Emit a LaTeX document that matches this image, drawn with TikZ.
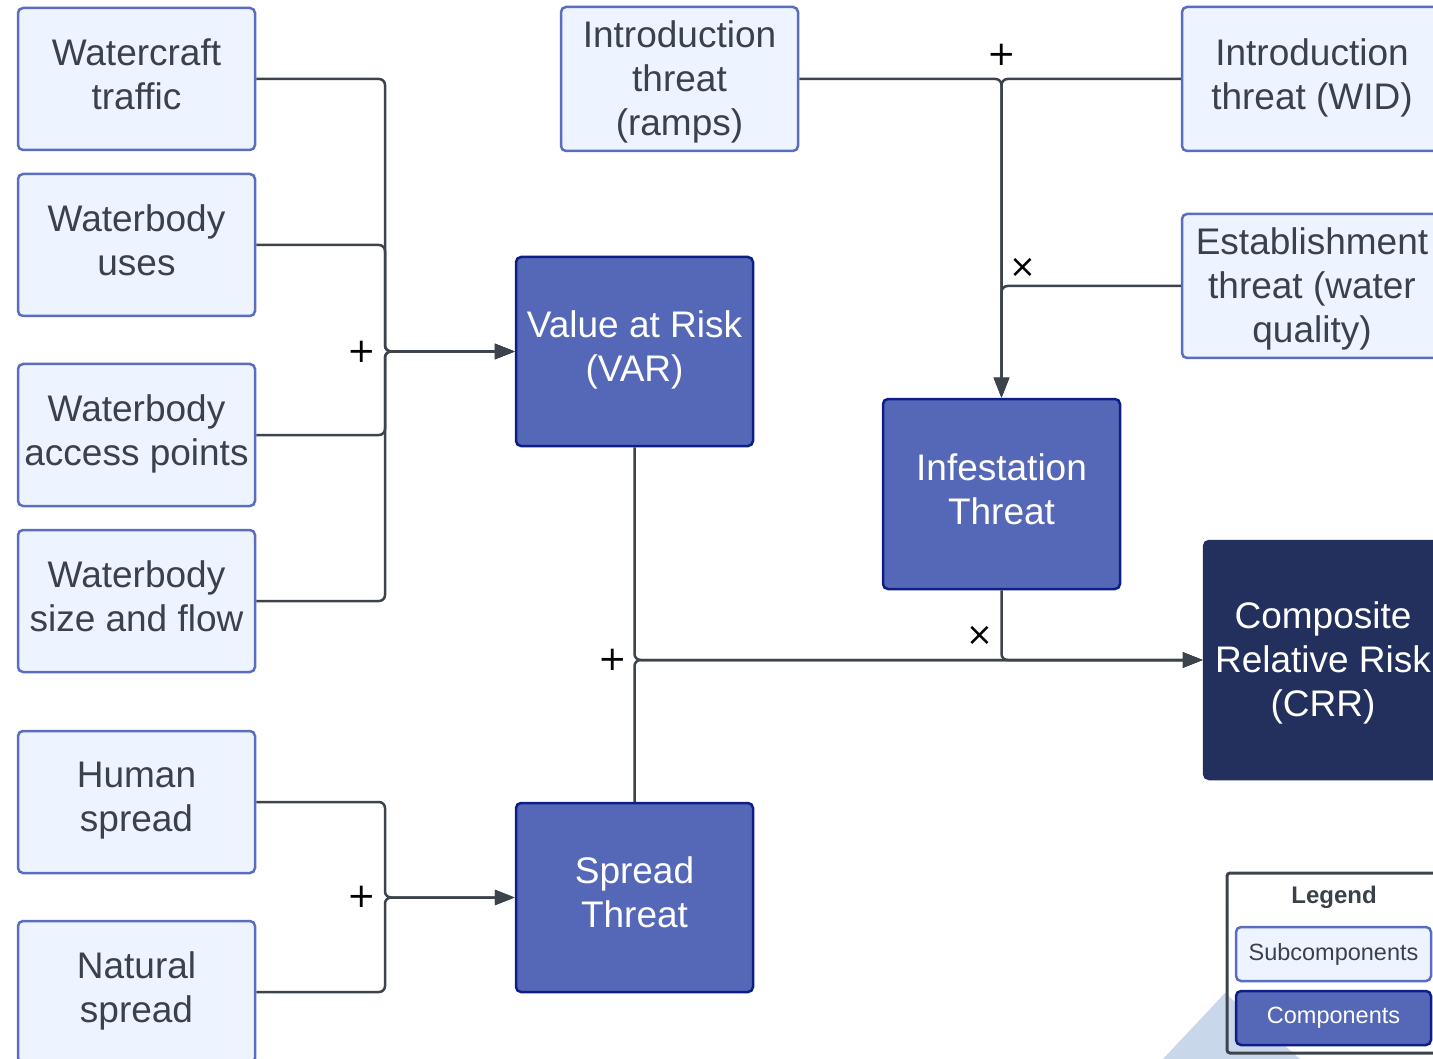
\documentclass[tikz,border=0pt]{standalone}
\usepackage{fontspec}
\setmainfont{Liberation Sans}
\newfontfamily\symfont{DejaVu Sans}
\usetikzlibrary{arrows.meta}
\definecolor{subfill}{HTML}{EDF4FF}
\definecolor{subdraw}{HTML}{5B6DBF}
\definecolor{subtext}{HTML}{3A414A}
\definecolor{compfill}{HTML}{5568B8}
\definecolor{compdraw}{HTML}{0F1D87}
\definecolor{crrfill}{HTML}{23305E}
\definecolor{edgecol}{HTML}{3D434B}
\definecolor{legshade}{HTML}{C9D7EA}
\begin{document}
\begin{tikzpicture}[x=1pt,y=-1pt,
  box/.style={line width=2.5pt, rounded corners=5pt, align=center, inner sep=0pt,
    minimum width=237pt, text depth=10pt, font=\fontsize{37}{44}\selectfont},
  threeline/.style={text depth=2pt},
  sub/.style={box, draw=subdraw, fill=subfill, text=subtext, minimum height=142pt},
  comp/.style={box, draw=compdraw, fill=compfill, text=white, minimum height=189pt},
  crrbox/.style={box, draw=crrfill, fill=crrfill, text=white, minimum width=238pt, minimum height=238pt},
  link/.style={draw=edgecol, line width=2.5pt, rounded corners=6pt},
  flow/.style={link, -{Triangle[length=20pt,width=15pt]}},
  sign/.style={text=black, inner sep=0pt, font=\symfont\fontsize{34}{34}\selectfont},
  times/.style={sign, font=\symfont\fontsize{32}{32}\selectfont},
  legtxt/.style={line width=2.5pt, rounded corners=5pt, inner sep=0pt, minimum width=195pt,
    minimum height=54pt, font=\fontsize{23.5}{27}\selectfont}]
\useasboundingbox (0,0) rectangle (1433,1059);
\clip (0,0) rectangle (1433,1059);

% subcomponents on the left
\node[sub] (wt) at (136.5,79)  {Watercraft\\traffic};
\node[sub] (wu) at (136.5,245) {Waterbody\\uses};
\node[sub] (wa) at (136.5,435) {Waterbody\\access points};
\node[sub] (ws) at (136.5,601) {Waterbody\\size and flow};
\node[sub] (hs) at (136.5,802) {Human\\spread};
\node[sub] (ns) at (136.5,992) {Natural\\spread};

% subcomponents at the top and right
\node[sub, threeline, minimum height=144pt] (ramps) at (679.5,79) {Introduction\\threat\\(ramps)};
\node[sub, minimum height=144pt, minimum width=260pt] (wid) at (1312,79) {Introduction\\threat (WID)};
\node[sub, threeline, minimum height=144pt, minimum width=260pt] (est) at (1312,286) {Establishment\\threat (water\\quality)};

% components
\node[comp] (var) at (634.5,351.5) {Value at Risk\\(VAR)};
\node[comp, minimum height=190pt] (inf) at (1001.5,494) {Infestation\\Threat};
\node[comp] (spr) at (634.5,897.5) {Spread\\Threat};
\node[crrbox, threeline] (crr) at (1323,660) {Composite\\Relative Risk\\(CRR)};

% junctions
\coordinate (jv) at (385,351.5);
\coordinate (js) at (385,897.5);
\coordinate (jc) at (634.5,660);
\coordinate (ji) at (1001.5,79);

% value at risk inputs
\draw[flow] (wt.east) -| (jv) -- (var.west);
\draw[flow] (wu.east) -| (jv) -- (var.west);
\draw[flow] (wa.east) -| (jv) -- (var.west);
\draw[flow] (ws.east) -| (jv) -- (var.west);

% spread threat inputs
\draw[flow] (hs.east) -| (js) -- (spr.west);
\draw[flow] (ns.east) -| (js) -- (spr.west);

% infestation threat inputs
\draw[flow] (ramps.east) -- (ji) -- (inf.north);
\draw[flow] (wid.west) -- (ji) -- (inf.north);
\draw[flow] (est.west) -| (inf.north);

% composite relative risk inputs
\draw[flow] (var.south) -- (jc) -- (crr.west);
\draw[flow] (spr.north) -- (jc) -- (crr.west);
\draw[flow] (inf.south) |- (crr.west);

% operators
\node[sign] (p1) at (362,352) {+};
\node[sign] (p2) at (362,897) {+};
\node[sign] (p3) at (613,660) {+};
\node[sign] (p4) at (1001.5,55) {+};
\node[times] (x1) at (1023,268) {×};
\node[times] (x2) at (980,636) {×};

% legend
\fill[legshade] (1225,993) -- (1300,1059) -- (1163,1059) -- cycle;
\node[draw=edgecol, line width=3pt, rounded corners=3pt, minimum width=214pt, minimum height=180pt] (leg) at (1334,963) {};
\node[text=subtext, font=\bfseries\fontsize{24}{28}\selectfont] (legt) at (1334,897) {Legend};
\node[legtxt, draw=subdraw, fill=subfill, text=subtext] (lsub) at (1333.5,954) {Subcomponents};
\node[legtxt, draw=compdraw, fill=compfill, text=white] (lcomp) at (1333.5,1018) {Components};
\end{tikzpicture}
\end{document}
